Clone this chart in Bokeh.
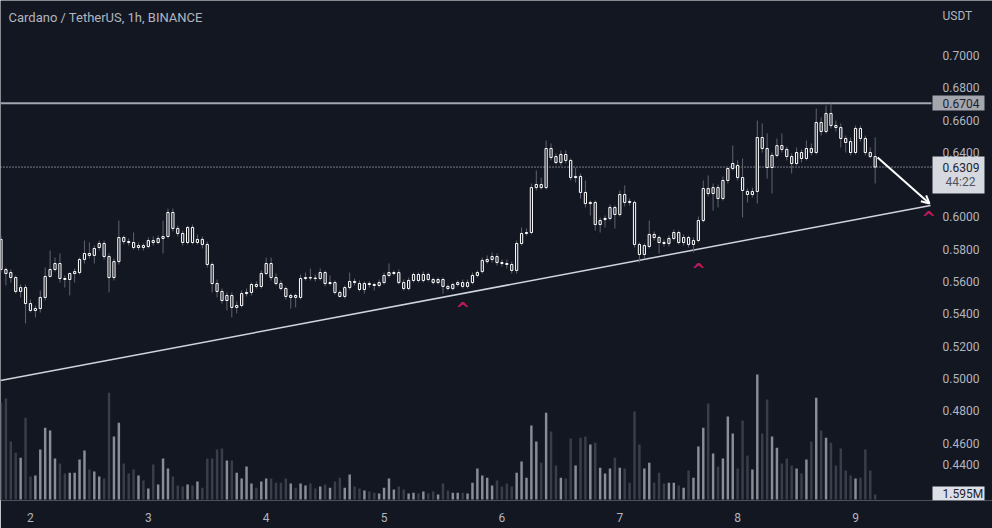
from bokeh.plotting import figure
from bokeh.models import (ColumnDataSource, Range1d, FixedTicker, Label, Arrow, OpenHead,
                          BoxAnnotation)
from bokeh.embed import file_html
from bokeh.resources import INLINE
from bokeh.core.properties import value

# ---------------- data (ADA/USDT 1h, BINANCE) ----------------
open_ = [
    .5861, .5675, .5656, .5625, .5539, .5563, .5464, .5421, .5433, .5502,
    .5632, .5675, .5712, .5619, .5613, .5650, .5656, .5737, .5774, .5762,
    .5811, .5836, .5755, .5625, .5724, .5873, .5848, .5842, .5811, .5823,
    .5817, .5854, .5842, .5867, .5879, .6028, .5929, .5898, .5842, .5935,
    .5842, .5861, .5830, .5706, .5588, .5539, .5483, .5514, .5440, .5452,
    .5526, .5533, .5582, .5570, .5650, .5712, .5625, .5588, .5557, .5502,
    .5514, .5502, .5619, .5625, .5622, .5619, .5656, .5588, .5594, .5533,
    .5508, .5563, .5601, .5588, .5551, .5588, .5582, .5576, .5594, .5638,
    .5650, .5656, .5594, .5557, .5607, .5644, .5607, .5644, .5613, .5594,
    .5613, .5570, .5557, .5582, .5594, .5570, .5594, .5638, .5662, .5724,
    .5737, .5755, .5718, .5712, .5706, .5669, .5836, .5898, .5904, .6182,
    .6201, .6182, .6424, .6374, .6337, .6387, .6350, .6244, .6251, .6152,
    .6083, .6090, .5953, .5984, .5991, .6059, .6015, .6139, .6096, .6090,
    .5830, .5768, .5817, .5892, .5873, .5842, .5836, .5867, .5904, .5842,
    .5873, .5830, .5854, .5978, .6176, .6145, .6182, .6114, .6226, .6300,
    .6319, .6244, .6158, .6139, .6158, .6492, .6424, .6306, .6381, .6442,
    .6418, .6374, .6331, .6399, .6362, .6424, .6399, .6585, .6529, .6641,
    .6566, .6554, .6486, .6467, .6399, .6548, .6486, .6399, .6374,
]
close = [
    .5675, .5650, .5625, .5539, .5563, .5464, .5421, .5433, .5502, .5632,
    .5675, .5712, .5619, .5613, .5650, .5662, .5737, .5774, .5762, .5805,
    .5836, .5755, .5625, .5724, .5873, .5848, .5842, .5811, .5823, .5811,
    .5854, .5842, .5867, .5879, .6028, .5929, .5898, .5842, .5935, .5842,
    .5861, .5830, .5706, .5588, .5539, .5483, .5514, .5440, .5452, .5526,
    .5533, .5582, .5570, .5650, .5712, .5625, .5588, .5557, .5508, .5514,
    .5502, .5619, .5625, .5622, .5619, .5656, .5588, .5594, .5533, .5508,
    .5563, .5601, .5594, .5551, .5588, .5582, .5576, .5594, .5638, .5656,
    .5656, .5594, .5557, .5607, .5644, .5607, .5644, .5613, .5594, .5613,
    .5570, .5557, .5582, .5594, .5570, .5594, .5638, .5656, .5731, .5737,
    .5755, .5718, .5712, .5706, .5669, .5836, .5898, .5904, .6182, .6201,
    .6182, .6424, .6368, .6337, .6387, .6350, .6244, .6251, .6152, .6083,
    .6090, .5953, .5978, .5991, .6059, .6015, .6139, .6090, .6090, .5830,
    .5768, .5823, .5892, .5873, .5842, .5836, .5867, .5904, .5842, .5873,
    .5830, .5854, .5978, .6176, .6145, .6182, .6114, .6226, .6300, .6331,
    .6244, .6164, .6139, .6158, .6492, .6424, .6306, .6381, .6442, .6418,
    .6374, .6331, .6399, .6362, .6424, .6399, .6585, .6529, .6641, .6566,
    .6554, .6486, .6461, .6399, .6548, .6486, .6399, .6374, .6309,
]
high = [
    .5885, .5687, .5675, .5638, .5582, .5582, .5489, .5452, .5545, .5687,
    .5793, .5749, .5774, .5638, .5656, .5681, .5749, .5854, .5842, .5823,
    .5854, .5854, .5774, .5743, .5978, .5885, .5867, .5904, .5842, .5836,
    .5873, .5879, .5885, .5978, .6052, .6052, .5947, .5916, .5947, .5953,
    .5892, .5879, .5848, .5718, .5613, .5557, .5533, .5533, .5477, .5545,
    .5557, .5594, .5601, .5669, .5749, .5749, .5650, .5607, .5570, .5526,
    .5526, .5644, .5656, .5681, .5644, .5681, .5669, .5638, .5607, .5545,
    .5576, .5656, .5619, .5607, .5601, .5601, .5594, .5613, .5656, .5712,
    .5669, .5675, .5613, .5625, .5656, .5656, .5662, .5656, .5625, .5625,
    .5625, .5582, .5594, .5607, .5613, .5613, .5656, .5669, .5749, .5762,
    .5780, .5774, .5737, .5737, .5724, .5854, .5935, .5929, .6207, .6288,
    .6244, .6473, .6455, .6393, .6412, .6412, .6362, .6306, .6269, .6226,
    .6102, .6102, .5997, .6009, .6077, .6071, .6164, .6195, .6114, .6102,
    .5842, .5836, .5978, .5910, .5885, .5861, .5885, .5922, .5916, .5892,
    .5885, .5873, .6003, .6226, .6257, .6207, .6201, .6251, .6306, .6442,
    .6350, .6362, .6176, .6182, .6597, .6579, .6517, .6399, .6486, .6517,
    .6436, .6393, .6430, .6418, .6473, .6455, .6671, .6616, .6690, .6702,
    .6597, .6579, .6504, .6492, .6566, .6566, .6504, .6430, .6492,
]
low = [
    .5656, .5576, .5594, .5526, .5502, .5341, .5409, .5378, .5409, .5483,
    .5625, .5662, .5594, .5563, .5514, .5594, .5644, .5712, .5743, .5712,
    .5793, .5737, .5533, .5607, .5706, .5830, .5823, .5799, .5793, .5793,
    .5805, .5823, .5830, .5774, .5867, .5910, .5879, .5823, .5830, .5830,
    .5830, .5805, .5687, .5533, .5502, .5464, .5421, .5378, .5403, .5440,
    .5508, .5514, .5557, .5557, .5638, .5607, .5576, .5545, .5489, .5433,
    .5440, .5489, .5607, .5607, .5601, .5607, .5570, .5576, .5520, .5502,
    .5495, .5551, .5576, .5539, .5526, .5563, .5545, .5563, .5582, .5625,
    .5638, .5582, .5545, .5545, .5594, .5594, .5594, .5601, .5582, .5582,
    .5526, .5545, .5545, .5570, .5557, .5557, .5582, .5625, .5650, .5712,
    .5718, .5700, .5693, .5681, .5650, .5650, .5823, .5885, .5892, .6164,
    .6170, .6170, .6350, .6325, .6319, .6331, .6226, .6213, .6114, .6059,
    .6009, .5916, .5904, .5935, .5978, .5929, .6003, .6065, .6071, .5811,
    .5718, .5743, .5805, .5854, .5774, .5817, .5817, .5854, .5830, .5823,
    .5811, .5780, .5842, .5966, .6127, .6040, .6059, .6102, .6207, .6288,
    .6226, .5997, .6090, .6121, .6083, .6399, .6238, .6145, .6368, .6399,
    .6350, .6269, .6319, .6337, .6350, .6381, .6387, .6504, .6517, .6548,
    .6529, .6430, .6399, .6381, .6387, .6467, .6381, .6362, .6207,
]
volume_m = [
    31.0, 32.3, 18.6, 15.0, 13.4, 26.2, 7.4, 7.7, 16.0, 23.0,
    22.1, 13.1, 11.5, 8.3, 8.6, 8.6, 12.8, 15.7, 9.6, 9.0,
    7.4, 6.7, 34.2, 20.2, 24.6, 11.5, 8.3, 9.6, 7.7, 6.1,
    3.5, 11.2, 4.8, 13.1, 9.9, 7.4, 4.5, 4.2, 4.8, 4.5,
    5.8, 3.8, 13.1, 13.1, 16.0, 16.3, 12.5, 12.5, 8.6, 6.7,
    10.6, 5.1, 3.8, 5.8, 6.7, 6.7, 5.4, 5.4, 6.7, 5.1,
    3.8, 5.1, 4.5, 5.1, 3.5, 4.2, 4.8, 3.8, 5.8, 7.0,
    3.8, 8.0, 4.2, 3.5, 2.9, 2.6, 2.2, 1.9, 3.8, 6.7,
    3.2, 4.2, 3.2, 1.9, 2.2, 1.9, 2.6, 1.9, 2.6, 1.6,
    5.1, 2.9, 2.2, 2.2, 2.2, 1.9, 5.4, 9.9, 7.7, 7.0,
    4.5, 6.1, 4.2, 5.1, 4.2, 8.6, 12.2, 7.0, 23.7, 18.6,
    11.8, 27.8, 21.8, 10.9, 7.0, 6.7, 19.5, 10.9, 19.8, 20.2,
    17.6, 18.2, 10.2, 8.3, 9.9, 13.4, 10.2, 9.9, 5.4, 28.2,
    17.6, 9.9, 11.8, 5.4, 8.6, 5.1, 5.4, 5.4, 4.5, 3.8,
    9.3, 7.0, 17.0, 23.0, 30.7, 14.7, 10.6, 13.1, 26.6, 21.1,
    9.9, 25.3, 14.1, 9.6, 40.0, 21.1, 32.0, 20.2, 16.6, 11.5,
    13.1, 10.9, 9.9, 8.3, 12.8, 18.6, 32.6, 22.1, 19.8, 18.2,
    10.9, 16.3, 9.3, 7.7, 6.7, 7.0, 16.0, 9.3, 1.595,
]
hours = list(range(len(close)))          # hourly index, first bar = day 1 18:00

day_ticks = [6, 30, 54, 78, 102, 126, 150, 174]
day_labels = ["2", "3", "4", "5", "6", "7", "8", "9"]
price_ticks = [0.44, 0.46, 0.48, 0.50, 0.52, 0.54, 0.56, 0.58,
               0.60, 0.62, 0.64, 0.66, 0.68, 0.70]
currency = "USDT"

resistance_price = 0.6704
last_price = 0.6309
countdown = "44:22"
last_volume_label = "1.595M"

trend_hours = [-0.1, 189.27]
trend_prices = [0.4988, 0.6071]
arrow_hours = [178.5, 189.06]
arrow_prices = [0.6368, 0.6083]
signal_hours = [94.0, 142.0, 188.9]
signal_prices = [0.5464, 0.5700, 0.6022]

# ---------------- layout / styling ----------------
PANE_END = 189.47        # hour where the price-scale strip begins
BG = "#131722"
TXT = "#b2b5be"
WICK = "#60636e"
VOL_UP = "#8a8d96"
VOL_DN = "#3a3e4a"
FONT = "Roboto"
SCALE_X = 942            # px (from left) where price-scale texts start
BOX_L, BOX_R = 932, 984  # px extent of price-scale boxes
FRAME_H = 500            # frame height in px (screen y counts up from its bottom)

up = [c >= o for o, c in zip(open_, close)]
src = ColumnDataSource(dict(
    x=hours, open=open_, close=close, high=high, low=low, volume=volume_m,
    btop=[max(o, c) for o, c in zip(open_, close)],
    bbot=[min(o, c) for o, c in zip(open_, close)],
    vcolor=[VOL_UP if u else VOL_DN for u in up],
))

p = figure(width=992, height=528, output_backend="svg", toolbar_location=None,
           title=None, x_range=Range1d(-0.10, 201.89), y_range=Range1d(0.4245, 0.7340),
           x_axis_location="below", y_axis_location=None,
           min_border_left=0, min_border_right=0, min_border_top=0, min_border_bottom=28,
           background_fill_color=BG, border_fill_color=BG)
p.outline_line_color = None
p.xgrid.visible = False
p.ygrid.visible = False

p.extra_y_ranges = {"vol": Range1d(-0.32, 159.7)}

# volume
p.vbar(x="x", width=0.5, top="volume", bottom=0, y_range_name="vol",
       fill_color="vcolor", line_color=None, source=src)

# trend line
p.line(trend_hours, trend_prices, line_color="#d1d4dc", line_width=1.5)

# horizontal levels (chart pane only)
p.line([-0.1, PANE_END], [resistance_price, resistance_price],
       line_color="#a3a6af", line_width=2)
p.line([-0.1, PANE_END], [last_price, last_price],
       line_color="#e0e3eb", line_width=1, line_dash="1 2")

# candles
p.segment(x0="x", y0="low", x1="x", y1="high", line_color=WICK, line_width=1, source=src)
p.vbar(x="x", width=0.45, top="btop", bottom="bbot", fill_color=BG,
       line_color="#ffffff", line_width=1, source=src)

# arrow
p.add_layout(Arrow(x_start=arrow_hours[0], y_start=arrow_prices[0],
                   x_end=arrow_hours[1], y_end=arrow_prices[1],
                   line_color="#ffffff", line_width=2,
                   end=OpenHead(size=8, line_color="#ffffff", line_width=2)))

# signals
p.text(x=signal_hours, y=signal_prices, text=["^"] * len(signal_hours),
       text_color="#c2185b", text_font=value("DejaVu Sans"), text_font_style="bold",
       text_font_size="17px", text_align="center", text_baseline="middle", y_offset=5)

# time axis
xa = p.xaxis[0]
xa.ticker = FixedTicker(ticks=day_ticks)
xa.major_label_overrides = {t: l for t, l in zip(day_ticks, day_labels)}
xa.axis_line_color = None
xa.major_tick_line_color = None
xa.minor_tick_line_color = None
xa.major_label_text_color = TXT
xa.major_label_text_font = FONT
xa.major_label_text_font_size = "12px"
xa.major_label_standoff = 6

# price scale texts (drawn through the price scale)
for t in price_ticks:
    p.add_layout(Label(x=SCALE_X, y=t, x_units="screen", y_units="data",
                       y_offset=11 if t == price_ticks[0] else 0,
                       text=f"{t:.4f}", text_color=TXT, text_font=FONT,
                       text_font_size="12px", text_baseline="middle"))
p.add_layout(Label(x=SCALE_X, y=FRAME_H - 15, x_units="screen", y_units="screen",
                   text=currency, text_color=TXT, text_font=FONT,
                   text_font_size="12px", text_baseline="middle"))

# title
p.add_layout(Label(x=8, y=FRAME_H - 17, x_units="screen", y_units="screen",
                   text="Cardano / TetherUS, 1h, BINANCE", text_color=TXT,
                   text_font=FONT, text_font_size="13px", text_baseline="middle"))

# price-scale boxes
def scale_box(top_px, bottom_px, color):
    return BoxAnnotation(left=BOX_L, right=BOX_R, top=FRAME_H - top_px, bottom=FRAME_H - bottom_px,
                         left_units="screen", right_units="screen",
                         top_units="screen", bottom_units="screen",
                         fill_color=color, fill_alpha=1.0, line_color=None)

p.add_layout(scale_box(95, 110, "#a3a6ad"))
p.add_layout(scale_box(156, 193, "#d6d9e0"))
p.add_layout(scale_box(486, 500, "#dcdfe6"))

p.add_layout(Label(x=SCALE_X, y=resistance_price, x_units="screen", y_units="data",
                   text=f"{resistance_price:.4f}", text_color="#1e222d",
                   text_font=FONT, text_font_size="12px", text_baseline="middle"))
p.add_layout(Label(x=SCALE_X, y=last_price, x_units="screen", y_units="data",
                   text=f"{last_price:.4f}", text_color="#1e222d",
                   text_font=FONT, text_font_size="12px", text_baseline="middle"))
p.add_layout(Label(x=960, y=last_price, x_units="screen", y_units="data", y_offset=-15,
                   text=countdown, text_color="#50535e", text_align="center",
                   text_font=FONT, text_font_size="12px", text_baseline="middle"))
p.add_layout(Label(x=SCALE_X, y=FRAME_H - 493, x_units="screen", y_units="screen",
                   text=last_volume_label, text_color="#1e222d",
                   text_font=FONT, text_font_size="12px", text_baseline="middle"))

open("out.html", "w").write(file_html(p, INLINE))
